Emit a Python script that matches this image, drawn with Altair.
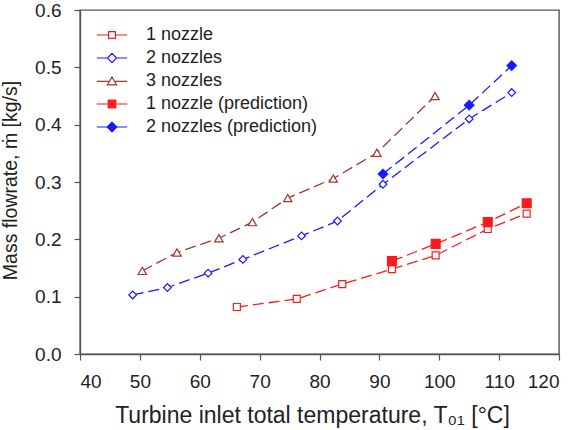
import altair as alt
import pandas as pd

series_names = ["1 nozzle", "2 nozzles", "3 nozzles",
                "1 nozzle (prediction)", "2 nozzles (prediction)"]

t_1 = [66.2, 76.2, 83.8, 92.1, 99.4, 108.1, 114.6]
m_1 = [0.082, 0.096, 0.122, 0.148, 0.172, 0.218, 0.245]

t_2 = [48.8, 54.6, 61.4, 67.2, 77.0, 83.0, 90.6, 105.0, 112.1]
m_2 = [0.103, 0.116, 0.141, 0.165, 0.206, 0.232, 0.296, 0.410, 0.456]

t_3 = [50.4, 56.2, 63.2, 68.8, 74.7, 82.3, 89.6, 99.3]
m_3 = [0.145, 0.177, 0.202, 0.230, 0.272, 0.306, 0.351, 0.450]

t_1p = [92.1, 99.4, 108.1, 114.6]
m_1p = [0.162, 0.192, 0.230, 0.263]

t_2p = [90.6, 105.0, 112.1]
m_2p = [0.314, 0.434, 0.503]

x_ticks = [40, 50, 60, 70, 80, 90, 100, 110, 120]
y_ticks = [0.0, 0.1, 0.2, 0.3, 0.4, 0.5, 0.6]

rows = []
for name, ts, ms in zip(series_names, [t_1, t_2, t_3, t_1p, t_2p], [m_1, m_2, m_3, m_1p, m_2p]):
    for t, m in zip(ts, ms):
        rows.append({"T": t, "m": m, "series": name})
df = pd.DataFrame(rows)

RED = "#FF1A1A"
BLUE = "#1A1AFF"
BROWN = "#A3342E"
colors = [RED, BLUE, BROWN, RED, BLUE]
fills = ["white", "white", "white", RED, BLUE]
shapes = ["square", "diamond", "triangle-up", "square", "diamond"]
sizes = [49, 90, 90, 64, 100]

legend_paths = [
    "M-3.8,0H-0.85M0.85,0H3.8M-0.85,-0.85H0.85V0.85H-0.85Z",
    "M-3.8,0H-1.15M1.15,0H3.8M0,-1.15L1.15,0L0,1.15L-1.15,0Z",
    "M-3.8,0.1H-0.6M0.6,0.1H3.8M0,-1L1.15,0.95H-1.15Z",
    "M-3.8,0H-0.95M0.95,0H3.8M-0.95,-0.95H0.95V0.95H-0.95Z",
    "M-3.8,0H-1.2M1.2,0H3.8M0,-1.2L1.2,0L0,1.2L-1.2,0Z",
]

FONT = "Liberation Sans"

x_enc = alt.X("T:Q", scale=alt.Scale(domain=[40, 120], nice=False, zero=False),
              axis=alt.Axis(values=x_ticks, format="d",
                            title="Turbine inlet total temperature, T₀₁ [°C]",
                            titleX=232, titleY=68, titleBaseline="alphabetic",
                            titleAnchor="middle", titleAlign="center",
                            titleFontSize=23, labelPadding=12))
y_enc = alt.Y("m:Q", scale=alt.Scale(domain=[0, 0.6], nice=False, zero=False),
              axis=alt.Axis(values=y_ticks, format=".1f",
                            title="Mass flowrate, ṁ [kg/s]",
                            titleX=-60, titleY=170, titleAngle=-90,
                            titleBaseline="bottom", titleAlign="center",
                            titleFontSize=19.5, labelPadding=13))

line = alt.Chart(df).mark_line(strokeDash=[11, 5], strokeWidth=1.3).encode(
    x=x_enc, y=y_enc,
    color=alt.Color("series:N", scale=alt.Scale(domain=series_names, range=colors), legend=None),
)

points = alt.Chart(df).mark_point(filled=True, strokeWidth=1.2, opacity=1).encode(
    x=x_enc, y=y_enc,
    stroke=alt.Stroke("series:N", scale=alt.Scale(domain=series_names, range=colors), legend=None),
    fill=alt.Fill("series:N", scale=alt.Scale(domain=series_names, range=fills), legend=None),
    shape=alt.Shape("series:N", scale=alt.Scale(domain=series_names, range=shapes), legend=None),
    size=alt.Size("series:N", scale=alt.Scale(domain=series_names, range=sizes), legend=None),
)

leg = alt.Legend(title=None, orient="none", legendX=23, legendY=16, padding=0,
                 symbolSize=64, symbolStrokeWidth=1.2, labelOffset=25,
                 labelFont=FONT, labelFontSize=18, labelColor="#222",
                 labelLimit=400, rowPadding=5, symbolOpacity=1)

legend_layer = alt.Chart(df).transform_filter("false").mark_point(
    filled=True, strokeWidth=1.2, opacity=1).encode(
    x=x_enc, y=y_enc,
    stroke=alt.Stroke("series:N", scale=alt.Scale(domain=series_names, range=colors), legend=leg),
    fill=alt.Fill("series:N", scale=alt.Scale(domain=series_names, range=fills), legend=leg),
    shape=alt.Shape("series:N", scale=alt.Scale(domain=series_names, range=legend_paths), legend=leg),
)

chart = alt.layer(line, points, legend_layer).resolve_scale(
    stroke="independent", fill="independent", shape="independent"
).properties(
    width=479, height=344,
    autosize=alt.AutoSizeParams(type="none"),
    padding={"left": 80, "top": 10, "right": 14, "bottom": 76},
    background="white",
).configure_view(
    stroke="#555", strokeWidth=1.4
).configure_axis(
    grid=False, domainColor="#555", domainWidth=1.4, tickColor="#555",
    tickSize=6, tickWidth=1.2,
    labelFont=FONT, labelFontSize=19, labelColor="#222",
    titleFont=FONT, titleFontWeight="normal", titleColor="#222",
)

chart.save("out.html", embed_options={"renderer": "svg", "actions": False})
